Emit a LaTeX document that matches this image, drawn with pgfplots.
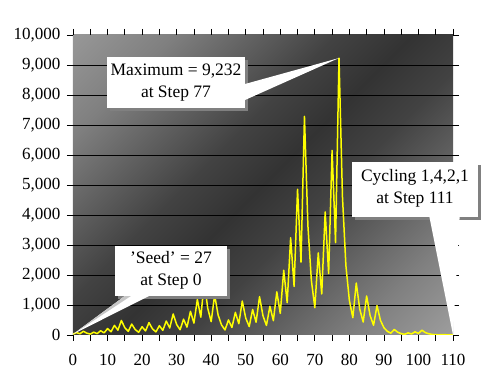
\documentclass[border=0pt]{standalone}
\usepackage{fontspec}
\setmainfont{Liberation Serif}
\usepackage{pgfplots}
\pgfplotsset{compat=1.18}
\definecolor{g0}{gray}{0.72}
\definecolor{g1}{gray}{0.50}
\definecolor{g2}{gray}{0.26}
\definecolor{g3}{gray}{0.20}
\definecolor{g4}{gray}{0.26}
\definecolor{g5}{gray}{0.50}
\definecolor{g6}{gray}{0.78}
\definecolor{shadowgray}{gray}{0.5}
\pgfdeclarehorizontalshading{bgshade}{100bp}{color(0bp)=(g0); color(25bp)=(g1); color(42bp)=(g2); color(50bp)=(g3); color(58bp)=(g4); color(75bp)=(g5); color(100bp)=(g6)}
\pgfplotstableread{
step value
0 27
1 82
2 41
3 124
4 62
5 31
6 94
7 47
8 142
9 71
10 214
11 107
12 322
13 161
14 484
15 242
16 121
17 364
18 182
19 91
20 274
21 137
22 412
23 206
24 103
25 310
26 155
27 466
28 233
29 700
30 350
31 175
32 526
33 263
34 790
35 395
36 1186
37 593
38 1780
39 890
40 445
41 1336
42 668
43 334
44 167
45 502
46 251
47 754
48 377
49 1132
50 566
51 283
52 850
53 425
54 1276
55 638
56 319
57 958
58 479
59 1438
60 719
61 2158
62 1079
63 3238
64 1619
65 4858
66 2429
67 7288
68 3644
69 1822
70 911
71 2734
72 1367
73 4102
74 2051
75 6154
76 3077
77 9232
78 4616
79 2308
80 1154
81 577
82 1732
83 866
84 433
85 1300
86 650
87 325
88 976
89 488
90 244
91 122
92 61
93 184
94 92
95 46
96 23
97 70
98 35
99 106
100 53
101 160
102 80
103 40
104 20
105 10
106 5
107 16
108 8
109 4
110 2
111 1
}\collatz
\begin{document}
\begin{tikzpicture}
\begin{axis}[
  scale only axis, width=380pt, height=300pt,
  xmin=0, xmax=110, ymin=0, ymax=10000,
  axis line style={draw=none},
  axis background/.style={shade, shading=bgshade, shading angle=-45},
  xtick={0,10,...,110}, minor xtick={5,15,...,105},
  ytick={0,1000,...,10000},
  tick align=outside, major tick length=6pt, minor tick length=6pt,
  tick style={black, line width=0.8pt},
  scaled y ticks=false,
  xticklabel={\pgfmathprintnumber[assume math mode=true]{\tick}},
  yticklabel={\pgfmathprintnumber[assume math mode=true, 1000 sep={,}]{\tick}},
  tick label style={font=\fontsize{17}{20}\selectfont},
  xticklabel style={yshift=-10pt},
  yticklabel style={xshift=-3pt},
]
\pgfplotsinvokeforeach{1000,2000,...,9000}{\draw[black, line width=0.8pt] (axis cs:0,#1) -- (axis cs:110,#1);}
\addplot[color={rgb,255:red,255;green,255;blue,0}, line width=1.5pt, line join=round] table[x=step, y=value] {\collatz};
\coordinate (ll) at (rel axis cs:0,0);
\coordinate (tipmax) at (axis cs:77,9232);
\coordinate (tipseed) at (axis cs:0,27);
\coordinate (tipcyc) at (axis cs:110,0);
\end{axis}
\coordinate (TL) at ([shift={(-73pt,300pt)}]ll);
\begin{scope}[shift={(TL)}, x=1pt, y=-1pt]
  % Maximum callout
  \fill[shadowgray] (110,25) rectangle (248,76);
  \fill[white] (245,49) -- (tipmax) -- (245,65) -- cycle;
  \fill[white] (107,22) rectangle (245,73);
  \node[align=center, font=\fontsize{17.5}{22}\selectfont] at (176,48) {Maximum = 9,232\\at Step 77};
  % Seed callout
  \fill[shadowgray] (118,214) rectangle (230,264);
  \fill[white] (133,255) -- (tipseed) -- (161,255) -- cycle;
  \fill[gray!45] (133,255) -- (tipseed) -- (140,255) -- cycle;
  \fill[white] (115,211) rectangle (227,261);
  \node[align=center, font=\fontsize{17.5}{22}\selectfont] at (171,235) {'Seed' = 27\\at Step 0};
  % Cycling callout
  \fill[shadowgray] (355,130) rectangle (481,185);
  \fill[white] (428,175) -- (tipcyc) -- (460,175) -- cycle;
  \fill[white] (352,127) rectangle (478,182);
  \node[align=center, font=\fontsize{17.5}{22}\selectfont] at (415,153) {Cycling 1,4,2,1\\at Step 111};
\end{scope}
\pgfresetboundingbox
\path ([shift={(-73pt,-50pt)}]ll) rectangle ([shift={(414pt,335pt)}]ll);
\end{tikzpicture}
\end{document}
